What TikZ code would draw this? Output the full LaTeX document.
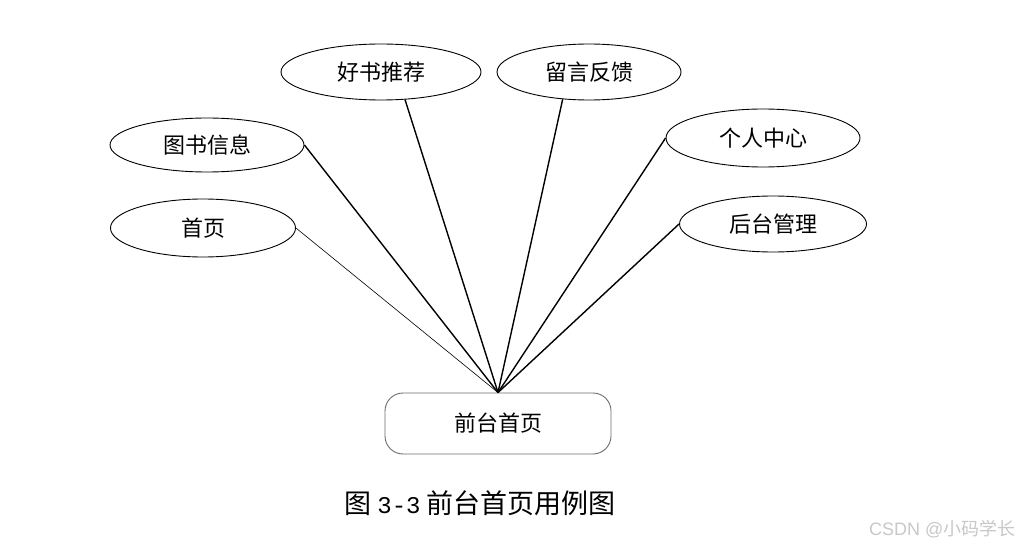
\documentclass[tikz,border=0pt]{standalone}
\usepackage{fontspec}
\setmainfont{Liberation Serif}
\newfontfamily\cjk{Noto Sans CJK SC}
\newfontfamily\capmono{Liberation Mono}
\usepackage{xcolor}
\definecolor{inkblack}{HTML}{000000}
\definecolor{boxgray}{HTML}{6E6E6E}
\definecolor{markgray}{HTML}{C8C8C8}
\usetikzlibrary{shapes.geometric, positioning}
\tikzset{
  ucase/.style ={ellipse, draw=inkblack, line width=0.9pt, fill=white, inner sep=0pt,
                 font=\cjk\fontsize{22}{26}\selectfont, text=inkblack},
  qbox/.style  ={rectangle, rounded corners=18pt, draw=boxgray, line width=0.9pt, fill=white,
                 minimum width=226pt, minimum height=61pt, inner sep=0pt,
                 font=\cjk\fontsize{22}{26}\selectfont},
  lline/.style ={line width=1.4pt, color=inkblack},
  tline/.style ={line width=0.6pt, color=inkblack},
}
\begin{document}
\begin{tikzpicture}[x=1pt, y=-1pt]
  \useasboundingbox[fill=white] (0,0) rectangle (1025,548);
  % use cases round the front page
  \node[ucase, minimum width=200pt, minimum height=56pt] (haoshu) at (381,72) {好书推荐};
  \node[ucase, minimum width=184pt, minimum height=56pt] (liuyan) at (589,72) {留言反馈};
  \node[ucase, minimum width=194pt, minimum height=54pt] (tushu)  at (207,145) {图书信息};
  \node[ucase, minimum width=185pt, minimum height=58pt] (shouye) at (203,228) {首页};
  \node[ucase, minimum width=194pt, minimum height=58pt] (geren)  at (763,138) {个人中心};
  \node[ucase, minimum width=187pt, minimum height=56pt] (houtai) at (773,224) {后台管理};
  \node[qbox] (qiantai) at (498,423.5) {前台首页};
  % links
  \draw[tline] (shouye.east) -- (qiantai.north);
  \draw[lline] (tushu.east) -- (qiantai.north);
  \draw[lline] (haoshu.-49) -- (qiantai.north);
  \draw[lline] (liuyan.-134) -- (qiantai.north);
  \draw[lline] (geren.west) -- (qiantai.north);
  \draw[lline] (houtai.west) -- (qiantai.north);
  % caption
  \node[font=\cjk\fontsize{27}{31}\selectfont] (cap) at (480,503) {图 {\capmono\fontsize{24}{28}\selectfont 3-3} 前台首页用例图};
  \node[anchor=east, text=markgray, font=\fontsize{18}{22}\selectfont] (mark) at (1019,529)
    {\fontspec{Liberation Sans}CSDN @{\cjk 小码学长}};
\end{tikzpicture}
\end{document}
